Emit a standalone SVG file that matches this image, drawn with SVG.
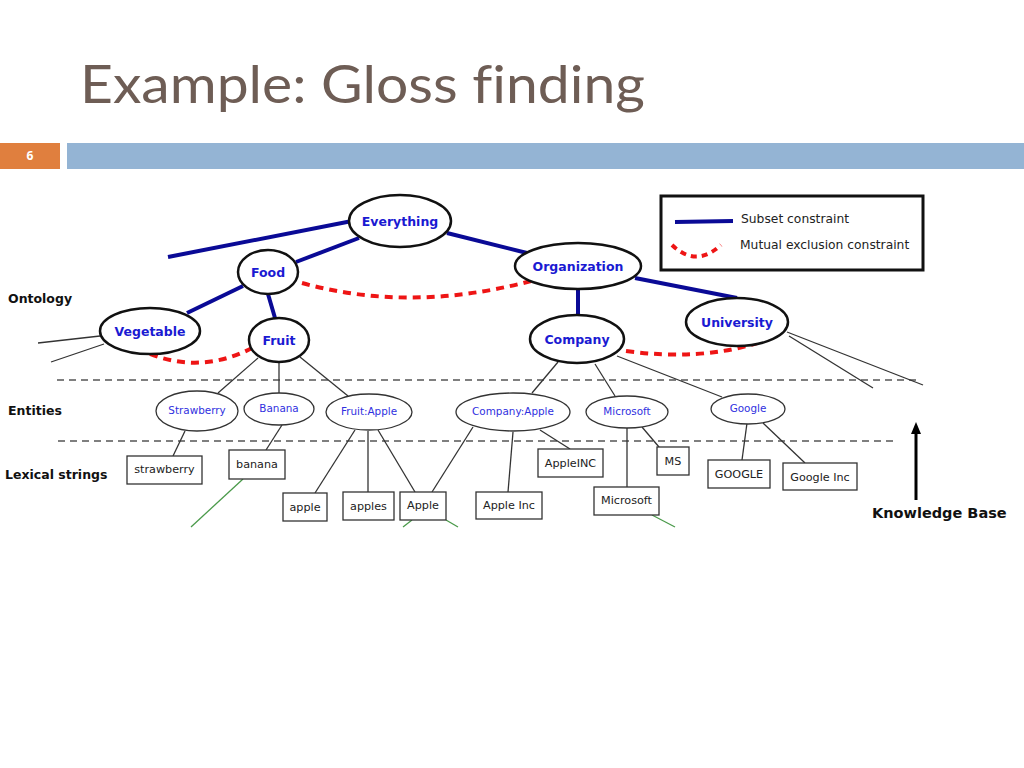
<svg xmlns="http://www.w3.org/2000/svg" width="1024" height="768" viewBox="0 0 1024 768">
<style>
.sub{stroke:#0a0a96;stroke-width:4;fill:none;stroke-linecap:butt}
.mx{stroke:#ee1515;stroke-width:4;fill:none;stroke-dasharray:8,6}
.thin{stroke:#333;stroke-width:1.3;fill:none}
.grn{stroke:#4a9a4a;stroke-width:1.3;fill:none}
.dash{stroke:#555;stroke-width:1.5;stroke-dasharray:7,5;fill:none}
.on{fill:#fff;stroke:#111;stroke-width:2.5}
.en{fill:#fff;stroke:#333;stroke-width:1.3}
.lx{fill:#fff;stroke:#333;stroke-width:1.3}
.ot{font-family:"DejaVu Sans",sans-serif;font-weight:bold;font-size:12.5px;fill:#1a1ad2;text-anchor:middle}
.et{font-family:"DejaVu Sans",sans-serif;font-size:10.4px;fill:#3030e0;text-anchor:middle}
.lt{font-family:"DejaVu Sans",sans-serif;font-size:11.2px;fill:#222;text-anchor:middle}
.lab{font-family:"DejaVu Sans",sans-serif;font-weight:bold;font-size:12.5px;fill:#111}
.kb{font-family:"DejaVu Sans",sans-serif;font-weight:bold;font-size:14.5px;fill:#111}
.leg{font-family:"DejaVu Sans",sans-serif;font-size:12.3px;fill:#222}
.lmx{stroke:#ee1515;stroke-width:4;fill:none;stroke-dasharray:6,5}
</style>
<rect width="1024" height="768" fill="#fff"/>
<text x="80" y="103" font-family="Lato, 'Open Sans', sans-serif" font-size="52" fill="#6e5d55" textLength="565" lengthAdjust="spacingAndGlyphs" style="font-variant-ligatures:none">Example: Gloss finding</text>
<rect x="0" y="143" width="60" height="26" fill="#e07f3e"/>
<text x="30" y="160" font-family="'Open Sans', sans-serif" font-weight="bold" font-size="12" fill="#fff" text-anchor="middle">6</text>
<rect x="67" y="143" width="957" height="26" fill="#94b4d4"/>

<g id="connectors">
<line class="dash" x1="57" y1="380" x2="918" y2="380"/>
<line class="dash" x1="58" y1="441" x2="893" y2="441"/>
<line class="sub" x1="168" y1="257" x2="352" y2="221"/>
<line class="sub" x1="359" y1="238" x2="296" y2="262"/>
<line class="sub" x1="243" y1="286" x2="187" y2="313"/>
<line class="sub" x1="268" y1="294" x2="275" y2="318"/>
<line class="sub" x1="447" y1="233" x2="527" y2="253"/>
<line class="sub" x1="578" y1="289" x2="578" y2="315"/>
<line class="sub" x1="635" y1="278" x2="737" y2="298"/>
<path class="mx" d="M302,283 Q410,313 531,281"/>
<path class="mx" d="M150,354 Q202,374 252,348"/>
<path class="mx" d="M626,351 Q700,361 757,343"/>
<line class="thin" x1="100" y1="336" x2="38" y2="343"/>
<line class="thin" x1="104" y1="344" x2="51" y2="362"/>
<line class="thin" x1="787" y1="332" x2="923" y2="385"/>
<line class="thin" x1="789" y1="336" x2="873" y2="388"/>
<line class="thin" x1="258" y1="358" x2="218" y2="393"/>
<line class="thin" x1="279" y1="362" x2="279" y2="393"/>
<line class="thin" x1="300" y1="357" x2="348" y2="396"/>
<line class="thin" x1="558" y1="362" x2="532" y2="393"/>
<line class="thin" x1="595" y1="364" x2="615" y2="396"/>
<line class="thin" x1="617" y1="356" x2="722" y2="397"/>
<line class="thin" x1="185" y1="431" x2="173" y2="456"/>
<line class="thin" x1="282" y1="425" x2="266" y2="450"/>
<line class="thin" x1="355" y1="430" x2="315" y2="493"/>
<line class="thin" x1="368" y1="431" x2="368" y2="492"/>
<line class="thin" x1="378" y1="430" x2="415" y2="492"/>
<line class="thin" x1="473" y1="427" x2="432" y2="492"/>
<line class="thin" x1="513" y1="432" x2="508" y2="492"/>
<line class="thin" x1="540" y1="430" x2="570" y2="449"/>
<line class="thin" x1="627" y1="428" x2="627" y2="487"/>
<line class="thin" x1="642" y1="427" x2="659" y2="447"/>
<line class="thin" x1="747" y1="423" x2="742" y2="460"/>
<line class="thin" x1="763" y1="423" x2="805" y2="463"/>
<line class="grn" x1="243" y1="479" x2="191" y2="527"/>
<line class="grn" x1="412" y1="520" x2="403" y2="527"/>
<line class="grn" x1="446" y1="520" x2="458" y2="527"/>
<line class="grn" x1="652" y1="515" x2="675" y2="527"/>
</g>

<g id="n-everything"><ellipse class="on" cx="400" cy="221" rx="51" ry="26"/><text class="ot" x="400" y="226">Everything</text></g>
<g id="n-food"><ellipse class="on" cx="268" cy="272" rx="30" ry="22"/><text class="ot" x="268" y="277">Food</text></g>
<g id="n-vegetable"><ellipse class="on" cx="150" cy="331" rx="50" ry="23"/><text class="ot" x="150" y="336">Vegetable</text></g>
<g id="n-fruit"><ellipse class="on" cx="279" cy="340" rx="30" ry="22"/><text class="ot" x="279" y="345">Fruit</text></g>
<g id="n-organization"><ellipse class="on" cx="578" cy="266" rx="63" ry="23"/><text class="ot" x="578" y="271">Organization</text></g>
<g id="n-company"><ellipse class="on" cx="577" cy="339" rx="47" ry="24"/><text class="ot" x="577" y="344">Company</text></g>
<g id="n-university"><ellipse class="on" cx="737" cy="322" rx="51" ry="24"/><text class="ot" x="737" y="327">University</text></g>

<g id="e-strawberry"><ellipse class="en" cx="197" cy="411" rx="41" ry="20"/><text class="et" x="197" y="414">Strawberry</text></g>
<g id="e-banana"><ellipse class="en" cx="279" cy="409" rx="35" ry="16"/><text class="et" x="279" y="412">Banana</text></g>
<g id="e-fruitapple"><ellipse class="en" cx="369" cy="412" rx="43" ry="18"/><text class="et" x="369" y="415">Fruit:Apple</text></g>
<g id="e-companyapple"><ellipse class="en" cx="513" cy="412" rx="57" ry="19"/><text class="et" x="513" y="415">Company:Apple</text></g>
<g id="e-microsoft"><ellipse class="en" cx="627" cy="412" rx="41" ry="16"/><text class="et" x="627" y="415">Microsoft</text></g>
<g id="e-google"><ellipse class="en" cx="748" cy="409" rx="37" ry="15"/><text class="et" x="748" y="412">Google</text></g>

<g id="l-strawberry"><rect class="lx" x="127" y="456" width="75" height="28"/><text class="lt" x="164.5" y="473">strawberry</text></g>
<g id="l-banana"><rect class="lx" x="229" y="450" width="56" height="29"/><text class="lt" x="257" y="468">banana</text></g>
<g id="l-apple"><rect class="lx" x="283" y="493" width="44" height="28"/><text class="lt" x="305" y="511">apple</text></g>
<g id="l-apples"><rect class="lx" x="343" y="492" width="51" height="28"/><text class="lt" x="368.5" y="510">apples</text></g>
<g id="l-Apple"><rect class="lx" x="400" y="492" width="46" height="28"/><text class="lt" x="423" y="509">Apple</text></g>
<g id="l-appleinc"><rect class="lx" x="476" y="492" width="66" height="27"/><text class="lt" x="509" y="509">Apple Inc</text></g>
<g id="l-appleINC"><rect class="lx" x="538" y="449" width="65" height="28"/><text class="lt" x="570.5" y="467">AppleINC</text></g>
<g id="l-microsoft"><rect class="lx" x="594" y="487" width="65" height="28"/><text class="lt" x="626.5" y="504">Microsoft</text></g>
<g id="l-ms"><rect class="lx" x="657" y="447" width="32" height="28"/><text class="lt" x="673" y="465">MS</text></g>
<g id="l-GOOGLE"><rect class="lx" x="708" y="460" width="62" height="28"/><text class="lt" x="739" y="478">GOOGLE</text></g>
<g id="l-googleinc"><rect class="lx" x="783" y="463" width="74" height="27"/><text class="lt" x="820" y="481">Google Inc</text></g>

<g id="legend">
<rect x="661" y="196" width="262" height="74" fill="#fff" stroke="#111" stroke-width="3"/>
<line class="sub" x1="675" y1="222" x2="733" y2="221"/>
<path class="lmx" d="M672,245 Q696,268 721,245"/>
<text class="leg" x="741" y="223">Subset constraint</text>
<text class="leg" x="740" y="249">Mutual exclusion constraint</text>
</g>

<g id="labels">
<text class="lab" x="8" y="303">Ontology</text>
<text class="lab" x="8" y="415">Entities</text>
<text class="lab" x="5" y="479">Lexical strings</text>
<text class="kb" x="872" y="518">Knowledge Base</text>
<line x1="916" y1="500" x2="916" y2="432" stroke="#000" stroke-width="3"/>
<polygon points="916,422 911,434 921,434" fill="#000"/>
</g>
</svg>
